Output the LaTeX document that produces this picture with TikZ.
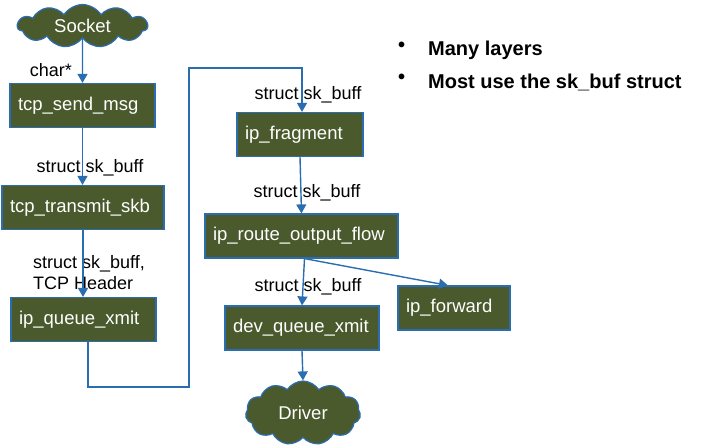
\documentclass[tikz,border=0pt]{standalone}
\usepackage{fontspec}
\setmainfont{Liberation Sans}
\usetikzlibrary{arrows.meta,shapes.symbols}
\definecolor{boxfill}{HTML}{4A5A2D}
\definecolor{edgeblue}{HTML}{2A6DB0}
\tikzset{
  fn/.style={rectangle, draw=edgeblue, line width=1.2pt, fill=boxfill,
    text=white, font=\fontsize{18.5}{20}\selectfont, inner xsep=8pt,
    align=left, minimum height=44pt, anchor=center},
  cloudnode/.style={cloud, cloud puffs=11, cloud puff arc=115, cloud ignores aspect,
    draw=edgeblue, line width=1.2pt, fill=boxfill, text=white,
    font=\fontsize{18.5}{20}\selectfont, inner sep=0pt},
  arr/.style={draw=edgeblue, line width=1.4pt,
    -{Triangle[width=10pt,length=9pt]}},
  lbl/.style={font=\fontsize{18}{19}\selectfont, text=black, inner sep=0pt},
  bullet/.style={font=\bfseries\fontsize{20}{22}\selectfont, inner sep=0pt, anchor=west}
}
\begin{document}
\begin{tikzpicture}[x=1pt,y=-1pt]
\useasboundingbox (0,0) rectangle (708,445);

% left column
\node[cloudnode, minimum width=130pt, minimum height=43pt] (socket) at (82.5,26) {Socket};
\node[fn, text width=129pt] (send) at (82.5,105.5) {tcp\_send\_msg};
\node[fn, text width=146pt] (transmit) at (83,207.5) {tcp\_transmit\_skb};
\node[fn, text width=129pt] (queue) at (83.5,319.5) {ip\_queue\_xmit};

% right column
\node[fn, text width=110pt] (frag) at (300,134.5) {ip\_fragment};
\node[fn, text width=177pt] (route) at (301.5,236) {ip\_route\_output\_flow};
\node[fn, text width=138pt] (dev) at (302,328) {dev\_queue\_xmit};
\node[fn, text width=96pt] (fwd) at (454,308) {ip\_forward};
\node[cloudnode, minimum width=115pt, minimum height=64pt] (driver) at (303,413) {Driver};

% connector labels
\node[lbl, anchor=east] (lchar) at (72,70) {char*};
\node[lbl] (l1) at (90,168) {struct sk\_buff};
\node[lbl, anchor=west, align=left, font=\fontsize{18}{21}\selectfont] (l2) at (33,273) {struct sk\_buff,\\TCP Header};
\node[lbl] (l3) at (308,95) {struct sk\_buff};
\node[lbl] (l4) at (307,193) {struct sk\_buff};
\node[lbl] (l5) at (308,287) {struct sk\_buff};

% connectors
\draw[arr] (socket.south) -- (send.north);
\draw[arr] (send.south) -- (send.south |- transmit.north);
\draw[arr] (transmit.south) -- (transmit.south |- queue.north);
\coordinate (loopA) at (189,387);
\coordinate (loopB) at (189,68);
\draw[arr, line width=1.2pt] ([xshift=4.5pt]queue.south) |- (loopA) -- (loopB) -| ([xshift=2pt]frag.north);
\draw[arr] (frag.south) -- (route.north);
\draw[arr] ([xshift=3pt]route.south) -- (dev.north);
\draw[arr] ([xshift=3pt]route.south) -- ([xshift=-6pt]fwd.north);
\draw[arr] (dev.south) -- (driver.north);

% bullet list
\node[bullet] (b1) at (398,47) {•};
\node[bullet] (t1) at (428,50) {Many layers};
\node[bullet] (b2) at (398,79) {•};
\node[bullet] (t2) at (428,82) {Most use the sk\_buf struct};
\end{tikzpicture}
\end{document}
